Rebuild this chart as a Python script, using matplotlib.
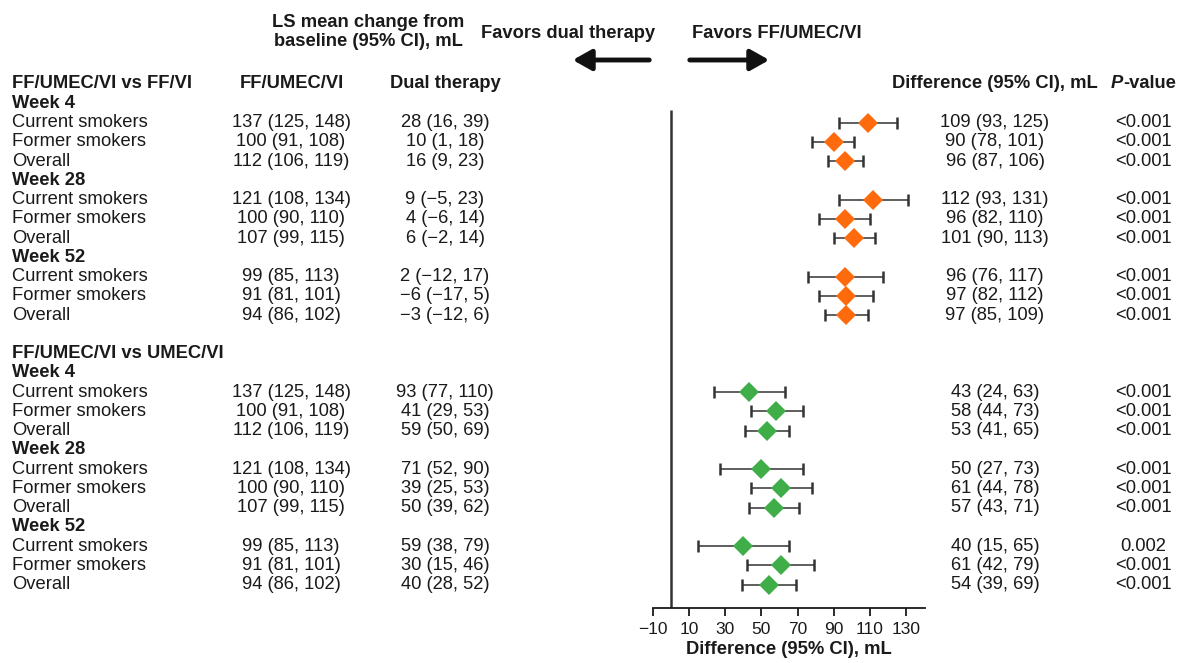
import matplotlib.pyplot as plt
import matplotlib.transforms as mtransforms
import matplotlib
matplotlib.rcParams['font.family'] = ['Liberation Sans', 'DejaVu Sans']

# ---- data ----
sub_labels = ["Current smokers", "Former smokers", "Overall"]
weeks = ["Week 4", "Week 28", "Week 52"]

g1_title = "FF/UMEC/VI vs FF/VI"
g1_triple = ["137 (125, 148)", "100 (91, 108)", "112 (106, 119)",
             "121 (108, 134)", "100 (90, 110)", "107 (99, 115)",
             "99 (85, 113)", "91 (81, 101)", "94 (86, 102)"]
g1_dual = ["28 (16, 39)", "10 (1, 18)", "16 (9, 23)",
           "9 (\u22125, 23)", "4 (\u22126, 14)", "6 (\u22122, 14)",
           "2 (\u221212, 17)", "\u22126 (\u221217, 5)", "\u22123 (\u221212, 6)"]
g1_diff = [109, 90, 96, 112, 96, 101, 96, 97, 97]
g1_lo = [93, 78, 87, 93, 82, 90, 76, 82, 85]
g1_hi = [125, 101, 106, 131, 110, 113, 117, 112, 109]
g1_p = ["<0.001"] * 9

g2_title = "FF/UMEC/VI vs UMEC/VI"
g2_triple = g1_triple
g2_dual = ["93 (77, 110)", "41 (29, 53)", "59 (50, 69)",
           "71 (52, 90)", "39 (25, 53)", "50 (39, 62)",
           "59 (38, 79)", "30 (15, 46)", "40 (28, 52)"]
g2_diff = [43, 58, 53, 50, 61, 57, 40, 61, 54]
g2_lo = [24, 44, 41, 27, 44, 43, 15, 42, 39]
g2_hi = [63, 73, 65, 73, 78, 71, 65, 79, 69]
g2_p = ["<0.001"] * 6 + ["0.002", "<0.001", "<0.001"]

xticks = [-10, 10, 30, 50, 70, 90, 110, 130]

orange = "#ff6a0d"
green = "#3fae49"
txt = "#1a1a1a"
fs = 13.2

W, H = 1184, 663
fig = plt.figure(figsize=(W / 100, H / 100), dpi=100)
ax = fig.add_axes([653 / W, 1 - 608 / H, (925 - 653) / W, (608 - 84) / H])
ax.set_xlim(-10, 140.5)
ax.set_ylim(27.22, 0)

for s in ["top", "right", "left"]:
    ax.spines[s].set_visible(False)
ax.spines["bottom"].set_linewidth(1.3)
ax.spines["bottom"].set_color(txt)
ax.set_yticks([])
ax.set_xticks(xticks)
ax.tick_params(axis="x", direction="out", length=6, width=1.3, colors=txt,
               labelsize=12.5, pad=4)
ax.set_xlabel("Difference (95% CI), mL", fontsize=fs, fontweight="bold",
              color=txt, labelpad=3)
ax.vlines(0, 1.35, 27.22, color="#333333", lw=1.8)

tr = mtransforms.blended_transform_factory(fig.transFigure, ax.transData)


def fx(px):
    return px / W


def draw_group(start, title, triple, dual, diff, lo, hi, pvals, color):
    kw = dict(transform=tr, fontsize=fs, color=txt, va="center")
    ax.text(fx(12), start, title, fontweight="bold", **kw)
    row = start + 1
    for w in range(3):
        ax.text(fx(12), row, weeks[w], fontweight="bold", **kw)
        row += 1
        for k in range(3):
            i = w * 3 + k
            ax.text(fx(12), row, sub_labels[k], **kw)
            ax.text(fx(291), row, triple[i], ha="center", **kw)
            ax.text(fx(445), row, dual[i], ha="center", **kw)
            ax.text(fx(995), row, f"{diff[i]} ({lo[i]}, {hi[i]})", ha="center", **kw)
            ax.text(fx(1143), row, pvals[i], ha="center", **kw)
            ax.errorbar(diff[i], row, xerr=[[diff[i] - lo[i]], [hi[i] - diff[i]]],
                        fmt="none", ecolor="#333333", elinewidth=1.1,
                        capsize=4, capthick=1.8)
            ax.plot(diff[i], row, marker="D", color=color, ms=10,
                    markeredgewidth=0, linestyle="none")
            row += 1


draw_group(0, g1_title, g1_triple, g1_dual, g1_diff, g1_lo, g1_hi, g1_p, orange)
draw_group(14, g2_title, g2_triple, g2_dual, g2_diff, g2_lo, g2_hi, g2_p, green)

# column headers
hkw = dict(fontsize=fs, color=txt, va="center", fontweight="bold")
ax.text(fx(292), 0, "FF/UMEC/VI", ha="center", transform=tr, **hkw)
ax.text(fx(445), 0, "Dual therapy", ha="center", transform=tr, **hkw)
ax.text(fx(995), 0, "Difference (95% CI), mL", ha="center", transform=tr, **hkw)
ptxt = ax.text(fx(1111), 0, "P", ha="left", fontstyle="italic", transform=tr, **hkw)
ax.annotate("\u2010value", xy=(1, 0.5), xycoords=ptxt, xytext=(0.3, 0),
            textcoords="offset points", ha="left", **hkw)

# top annotations
fig.text(368 / W, 1 - 32 / H, "LS mean change from\nbaseline (95% CI), mL",
         ha="center", va="center", fontsize=fs, fontweight="bold", color=txt,
         linespacing=1.1)
fig.text(568 / W, 1 - 33 / H, "Favors dual therapy", ha="center", va="center",
         fontsize=fs, fontweight="bold", color=txt)
fig.text(777 / W, 1 - 33 / H, "Favors FF/UMEC/VI", ha="center", va="center",
         fontsize=fs, fontweight="bold", color=txt)
arrow_kw = dict(arrowstyle="-|>,head_length=0.8,head_width=0.45", lw=3.5,
                color="#111111", mutation_scale=14)
fig.add_artist(matplotlib.patches.FancyArrowPatch(
    (652 / W, 1 - 60 / H), (570 / W, 1 - 60 / H), transform=fig.transFigure, **arrow_kw))
fig.add_artist(matplotlib.patches.FancyArrowPatch(
    (687 / W, 1 - 60 / H), (772 / W, 1 - 60 / H), transform=fig.transFigure, **arrow_kw))

fig.savefig("out.png", dpi=100)
